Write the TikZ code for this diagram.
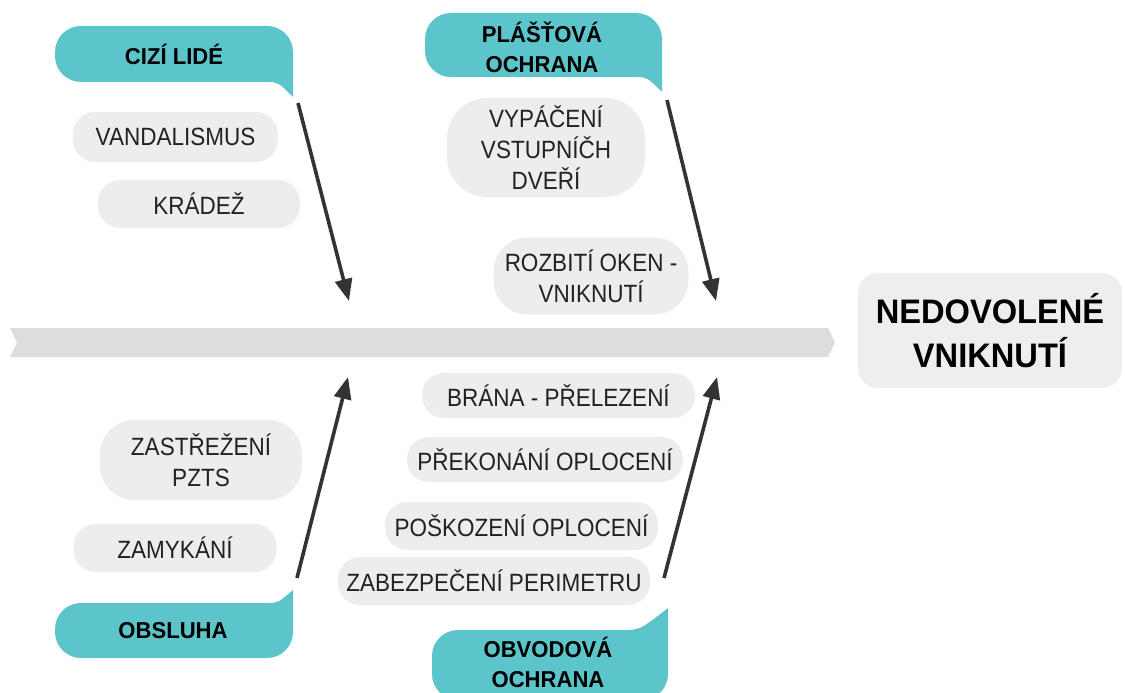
\documentclass[tikz,border=0pt]{standalone}
\usepackage{fontspec}
\setmainfont{Liberation Sans}
\newfontfamily\causefont[FakeStretch=0.9]{Liberation Sans}
\newfontfamily\headfont[FakeStretch=0.96]{Liberation Sans}
\usetikzlibrary{arrows.meta}

\definecolor{bubbleteal}{RGB}{92,197,204}
\definecolor{spinegray}{RGB}{222,221,222}
\definecolor{causegray}{RGB}{237,237,237}
\definecolor{effectgray}{RGB}{238,238,238}
\definecolor{causetext}{RGB}{34,34,34}
\definecolor{arrowgray}{RGB}{51,51,51}

\begin{document}
\begin{tikzpicture}[x=1pt,y=-1pt,
  cause/.style={fill=causegray, text=causetext, inner sep=0pt, align=center,
    rounded corners=22pt, font=\causefont\fontsize{25}{31}\selectfont},
  headtext/.style={inner sep=0pt, align=center, text=black,
    font=\headfont\bfseries\fontsize{23}{30}\selectfont},
  bone/.style={draw=arrowgray, line width=3.6pt,
    -{Triangle[length=22pt,width=17pt]}},
  bubble/.style={fill=bubbleteal}]

\useasboundingbox (0,0) rectangle (1125,693);

% main spine
\fill[spinegray] (10,328) -- (828,328) -- (835,342.5) -- (828,357)
  -- (10,357) -- (17,342.5) -- cycle;

% effect box
\node[fill=effectgray, rounded corners=20pt, minimum width=264pt,
  minimum height=115pt, inner sep=0pt, align=center,
  font=\headfont\bfseries\fontsize{34}{44}\selectfont]
  (effect) at (990,330.5) {NEDOVOLEN\'E\\VNIKNUT\'I};

% category bubbles: rounded boxes with a pointed tail towards the bone
\fill[bubble] (293,97) -- (293,52) .. controls (293,37.6) and (281.4,26) .. (267,26)
  -- (81,26) .. controls (66.6,26) and (55,37.6) .. (55,52) -- (55,56)
  .. controls (55,70.4) and (66.6,82) .. (81,82) -- (266,82)
  .. controls (278,82) .. (293,97) -- cycle;
\fill[bubble] (662,92) -- (662,39) .. controls (662,24.6) and (650.4,13) .. (636,13)
  -- (451,13) .. controls (436.6,13) and (425,24.6) .. (425,39) -- (425,51)
  .. controls (425,65.4) and (436.6,77) .. (451,77) -- (635,77)
  .. controls (647,77) .. (662,92) -- cycle;
\fill[bubble] (293,590) -- (293,632) .. controls (293,646.4) and (281.4,658) .. (267,658)
  -- (81,658) .. controls (66.6,658) and (55,646.4) .. (55,632) -- (55,629)
  .. controls (55,614.6) and (66.6,603) .. (81,603) -- (266,603)
  .. controls (278,603) .. (293,590) -- cycle;
\fill[bubble] (668,608) -- (668,674) .. controls (668,688.4) and (656.4,700) .. (642,700)
  -- (458,700) .. controls (443.6,700) and (432,688.4) .. (432,674) -- (432,656)
  .. controls (432,641.6) and (443.6,630) .. (458,630) -- (622,630)
  .. controls (640,630) .. (668,608) -- cycle;

\node[headtext] (cizi)  at (174,54)  {CIZ\'I LID\'E};
\node[headtext] (plast) at (542,47)  {PL\'A\v{S}\v{T}OV\'A\\OCHRANA};
\node[headtext] (obsl)  at (173,631) {OBSLUHA};
\node[headtext] (obvod) at (548,662) {OBVODOV\'A\\OCHRANA};

% causes
\node[cause, minimum width=205pt, minimum height=50pt] (vand)  at (175.5,137) {VANDALISMUS};
\node[cause, minimum width=202pt, minimum height=48pt] (krad)  at (199,204)   {KR\'ADE\v{Z}};
\node[cause, rounded corners=40pt, minimum width=198pt, minimum height=99pt]
  (vyp) at (546,147.5) {VYP\'A\v{C}EN\'I\\VSTUPN\'I\v{C}H\\DVE\v{R}\'I};
\node[cause, rounded corners=34pt, minimum width=195pt, minimum height=77pt]
  (rozb) at (591,276) {ROZBIT\'I OKEN -\\VNIKNUT\'I};
\node[cause, minimum width=273pt, minimum height=45pt] (brana) at (558.5,395.5) {BR\'ANA - P\v{R}ELEZEN\'I};
\node[cause, minimum width=276pt, minimum height=45pt] (prek)  at (545,459.5) {P\v{R}EKON\'AN\'I OPLOCEN\'I};
\node[cause, minimum width=273pt, minimum height=48pt] (posk)  at (521.5,526) {PO\v{S}KOZEN\'I OPLOCEN\'I};
\node[cause, minimum width=312pt, minimum height=48pt] (zabez) at (494,581)   {ZABEZPE\v{C}EN\'I PERIMETRU};
\node[cause, rounded corners=34pt, minimum width=202pt, minimum height=80pt]
  (zastr) at (201,460) {ZAST\v{R}E\v{Z}EN\'I\\PZTS};
\node[cause, minimum width=203pt, minimum height=48pt] (zamyk) at (175,548) {ZAMYK\'AN\'I};

% bones from each category to the spine
\coordinate (ciziS)  at (298,103);
\coordinate (ciziE)  at (349,301);
\coordinate (plastS) at (667,100);
\coordinate (plastE) at (716,301);
\coordinate (obslS)  at (297,578);
\coordinate (obslE)  at (348,377);
\coordinate (obvodS) at (664,578);
\coordinate (obvodE) at (717,377);

\draw[bone] (ciziS) -- (ciziE);
\draw[bone] (plastS) -- (plastE);
\draw[bone] (obslS) -- (obslE);
\draw[bone] (obvodS) -- (obvodE);

\end{tikzpicture}
\end{document}
